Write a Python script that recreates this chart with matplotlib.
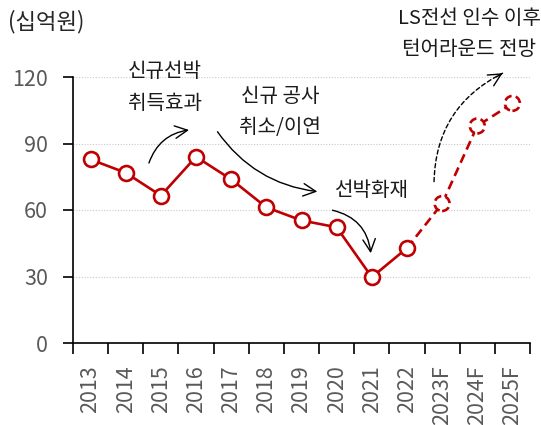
import matplotlib
matplotlib.use("Agg")
import matplotlib.pyplot as plt
import numpy as np

plt.rcParams['font.family'] = ['Noto Sans CJK KR', 'DejaVu Sans']

categories = ["2013", "2014", "2015", "2016", "2017", "2018", "2019", "2020",
              "2021", "2022", "2023F", "2024F", "2025F"]
values = [82.8, 76.8, 66.5, 84.0, 73.8, 61.2, 55.3, 52.2, 29.7, 42.8, 62.9, 97.9, 108.1]
n_actual = 10  # 2013-2022 actual, rest forecast
yticks = [0, 30, 60, 90, 120]

red = '#C00000'
gray = '#595959'

fig = plt.figure(figsize=(5.41, 4.25), dpi=100)
ax = fig.add_axes([73/541, 1-343/425, (530-73)/541, (343-77)/425])

x = np.arange(len(categories))
v = np.array(values)

ax.set_xlim(-0.5, len(categories)-0.5)
ax.set_ylim(0, 120)

# gridlines
for t in yticks[1:]:
    ax.axhline(t, color='#c8c8c8', lw=0.8, ls=(0, (1, 1.5)), zorder=0)

# lines
ax.plot(x[:n_actual], v[:n_actual], color=red, lw=1.9, zorder=2)
ax.plot(x[n_actual-1:], v[n_actual-1:], color=red, lw=1.9, ls=(0, (3.5, 2)), zorder=2)
# markers
ax.scatter(x[:n_actual], v[:n_actual], s=115, facecolor='white', edgecolor=red,
           linewidth=1.9, zorder=3, clip_on=False)
ax.scatter(x[n_actual:], v[n_actual:], s=115, facecolor='white', edgecolor=red,
           linewidth=1.9, linestyle=(0, (3, 1.6)), zorder=3, clip_on=False)

# axes styling
for s in ['top', 'right']:
    ax.spines[s].set_visible(False)
ax.spines['left'].set_color('black')
ax.spines['bottom'].set_color('black')
ax.spines['left'].set_linewidth(1.2)
ax.spines['bottom'].set_linewidth(1.2)

ax.set_yticks(yticks)
ax.set_yticklabels([str(t) for t in yticks])
ax.tick_params(axis='y', direction='out', length=7, width=1.2, pad=11,
               labelsize=15.5, labelcolor=gray, color='black')
ax.set_xticks(x)
ax.set_xticklabels(categories, rotation=90)
ax.tick_params(axis='x', which='major', length=0, pad=16, labelsize=15.5, labelcolor=gray)
ax.set_xticks(np.arange(len(categories)+1)-0.5, minor=True)
ax.tick_params(axis='x', which='minor', direction='out', length=8, width=1.2, color='black')
for lbl in ax.get_xticklabels():
    lbl.set_verticalalignment('top')
ax.yaxis.set_tick_params(which='minor', length=0)

# unit label
fig.text(8/541, 1-22/425, '(십억원)', fontsize=16, color='#262626', ha='left', va='center')

tfs = 14.5
tc = '#1a1a1a'
ax.text(2.12, 122.3, '신규선박', fontsize=tfs, color=tc, ha='center', va='center', clip_on=False)
ax.text(2.12, 108.0, '취득효과', fontsize=tfs, color=tc, ha='center', va='center', clip_on=False)
ax.text(5.39, 111.4, '신규 공사', fontsize=tfs, color=tc, ha='center', va='center', clip_on=False)
ax.text(5.39, 97.4, '취소/이연', fontsize=tfs, color=tc, ha='center', va='center', clip_on=False)
ax.text(7.99, 69.0, '선박화재', fontsize=tfs, color=tc, ha='center', va='center', clip_on=False)
ax.text(10.77, 146.6, 'LS전선 인수 이후', fontsize=tfs, color=tc, ha='center', va='center', clip_on=False)
ax.text(10.77, 132.2, '턴어라운드 전망', fontsize=tfs, color=tc, ha='center', va='center', clip_on=False)

aprops = dict(arrowstyle='->,head_length=0.9,head_width=0.45', color='black', lw=1.0,
              shrinkA=0, shrinkB=0)
ax.annotate('', xy=(2.80, 96.1), xytext=(1.66, 81.2),
            arrowprops=dict(connectionstyle='arc3,rad=-0.3', **aprops), annotation_clip=False)
ax.annotate('', xy=(6.45, 68.3), xytext=(3.61, 95.3),
            arrowprops=dict(connectionstyle='arc3,rad=0.22', **aprops), annotation_clip=False)
ax.annotate('', xy=(7.97, 40.5), xytext=(6.88, 59.9),
            arrowprops=dict(connectionstyle='arc3,rad=-0.35', **aprops), annotation_clip=False)
# dashed curved arrow: dashed shaft + solid head
ax.annotate('', xy=(11.72, 121.7), xytext=(9.77, 72.8),
            arrowprops=dict(arrowstyle='-', color='black', lw=1.0, shrinkA=0, shrinkB=0,
                            connectionstyle='arc3,rad=-0.3', ls=(0, (3, 2))),
            annotation_clip=False)
ax.annotate('', xy=(11.72, 121.7), xytext=(11.55, 120.1),
            arrowprops=dict(connectionstyle='arc3,rad=0', **aprops), annotation_clip=False)

fig.savefig('out.png', dpi=100)
